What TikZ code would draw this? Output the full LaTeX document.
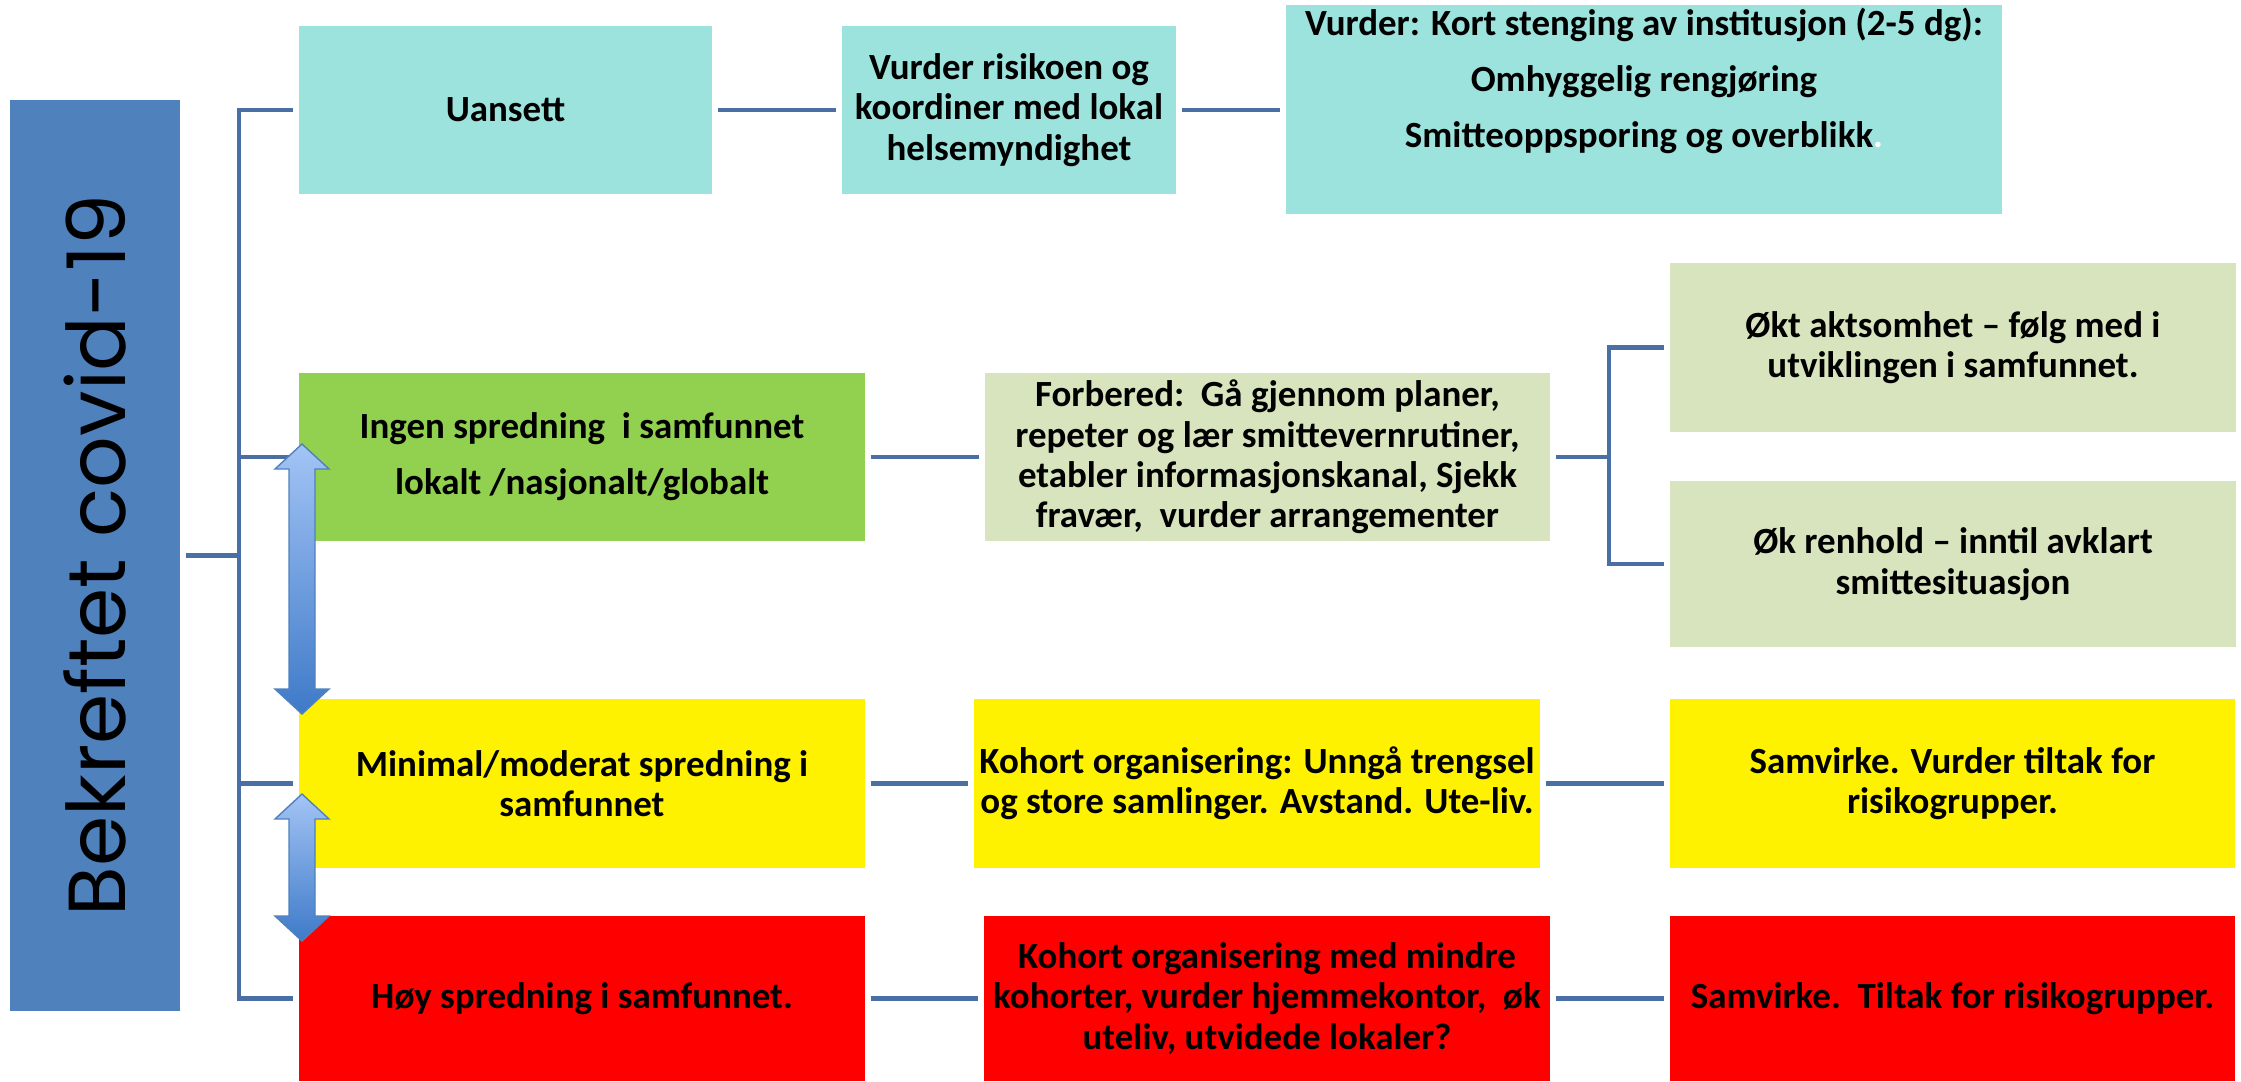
\documentclass[tikz,border=0pt]{standalone}
\usepackage{graphicx}
\usepackage{fontspec}
\setmainfont{Carlito}
\newfontfamily\barfont{Poppins}
\usetikzlibrary{positioning}
\definecolor{barblue}{HTML}{4F81BD}
\definecolor{linkblue}{HTML}{4A6FA5}
\definecolor{aqua}{HTML}{9CE2DD}
\definecolor{grass}{HTML}{92D050}
\definecolor{sage}{HTML}{D7E4BD}
\definecolor{arrowlight}{HTML}{A3C4F5}
\definecolor{arrowdark}{HTML}{3E7AC8}
\newcommand\dblarrow[3]{\path[updown] (#1,#2) -- (#1+27,#2+25) -- (#1+13,#2+25)
  -- (#1+13,#3-25) -- (#1+27,#3-25) -- (#1,#3) -- (#1-27,#3-25) -- (#1-13,#3-25)
  -- (#1-13,#2+25) -- (#1-27,#2+25) -- cycle;}

\begin{document}
\begin{tikzpicture}[x=0.01cm, y=-0.01cm,
                      box/.style = {rectangle, inner sep=0pt, outer sep=0.055cm,
                        align=center, font=\bfseries\fontsize{10.5}{11.5}\selectfont},
                      airy/.style = {font=\bfseries\fontsize{10.5}{16}\selectfont},
                      link/.style = {draw=linkblue, line width=0.045cm},
                      updown/.style = {draw=barblue, line width=0.4pt,
                        top color=arrowlight, bottom color=arrowdark}]
                      \useasboundingbox (0,0) rectangle (2241,1081);
                      \node[box, fill=barblue, minimum width=1.70cm, minimum height=9.11cm,
                        font=\barfont\fontsize{23}{23}\selectfont]
                        (bar) at (95,555.5) {\rotatebox{90}{Bekreftet covid-19}};
                      % Uansett
                      \node[box, fill=aqua, minimum width=4.13cm, minimum height=1.68cm]
                        (uansett) at (505.5,110) {Uansett};
                      \node[box, fill=aqua, minimum width=3.34cm, minimum height=1.68cm]
                        (risiko) at (1009,110) {Vurder risikoen og\\koordiner med lokal\\helsemyndighet};
                      \node[box, airy, fill=aqua, minimum width=7.16cm, minimum height=2.09cm]
                        (stenging) at (1644,109.5) {Vurder: Kort stenging av institusjon (2-5 dg):\\
                          Omhyggelig rengjøring\\
                          Smitteoppsporing og overblikk\textcolor{white}{.}\rule[-0.63cm]{0pt}{0pt}};
                      % Ingen spredning
                      \node[box, airy, fill=grass, minimum width=5.66cm, minimum height=1.68cm]
                        (ingen) at (582,457) {Ingen spredning\ \ i samfunnet\\lokalt /nasjonalt/globalt};
                      \node[box, fill=sage, minimum width=5.65cm, minimum height=1.68cm]
                        (forbered) at (1267.5,457) {Forbered:\ \ Gå gjennom planer,\\
                          repeter og lær smittevernrutiner,\\etabler informasjonskanal, Sjekk\\
                          fravær,\ \ vurder arrangementer};
                      \node[box, fill=sage, minimum width=5.66cm, minimum height=1.69cm]
                        (aktsomhet) at (1953,347.5) {Økt aktsomhet – følg med i\\utviklingen i samfunnet.};
                      \node[box, fill=sage, minimum width=5.66cm, minimum height=1.66cm]
                        (renhold) at (1953,564) {Øk renhold – inntil avklart\\smittesituasjon};
                      % Minimal/moderat spredning
                      \node[box, fill=yellow, minimum width=5.66cm, minimum height=1.69cm]
                        (moderat) at (582,783.5) {Minimal/moderat spredning i\\samfunnet};
                      \node[box, fill=yellow, minimum width=5.66cm, minimum height=1.69cm]
                        (kohort) at (1257,783.5) {Kohort organisering: Unngå trengsel\\og store samlinger. Avstand. Ute-liv.};
                      \node[box, fill=yellow, minimum width=5.65cm, minimum height=1.69cm]
                        (samvirke) at (1952.5,783.5) {Samvirke. Vurder tiltak for\\risikogrupper.};
                      % Høy spredning
                      \node[box, fill=red, minimum width=5.66cm, minimum height=1.65cm]
                        (hoy) at (582,998.5) {Høy spredning i samfunnet.};
                      \node[box, fill=red, minimum width=5.66cm, minimum height=1.65cm]
                        (smaakohort) at (1267,998.5) {Kohort organisering med mindre\\
                          kohorter, vurder hjemmekontor,\ \ øk\\uteliv, utvidede lokaler?};
                      \node[box, fill=red, minimum width=5.65cm, minimum height=1.65cm]
                        (tiltak) at (1952.5,998.5) {Samvirke.\ \ Tiltak for risikogrupper.};
                      % connectors
                      \coordinate (trunk) at (239,555.5);
                      \coordinate (fork) at (1609,457);
                      \draw[link] (bar.east) -- (trunk);
                      \draw[link] (uansett.west) -| (trunk) |- (hoy.west);
                      \draw[link] (ingen.west) -- (ingen.west -| trunk);
                      \draw[link] (moderat.west) -- (moderat.west -| trunk);
                      \draw[link] (uansett) -- (risiko);
                      \draw[link] (risiko) -- (risiko -| stenging.west);
                      \draw[link] (ingen) -- (forbered);
                      \draw[link] (forbered.east) -- (fork);
                      \draw[link] (aktsomhet.west) -| (fork) |- (renhold.west);
                      \draw[link] (moderat) -- (kohort);
                      \draw[link] (kohort) -- (samvirke);
                      \draw[link] (hoy) -- (smaakohort);
                      \draw[link] (smaakohort) -- (tiltak);
                      % up/down arrows
                      \dblarrow{302}{444}{714}
                      \dblarrow{302}{794}{941}
                    \end{tikzpicture}
\end{document}
